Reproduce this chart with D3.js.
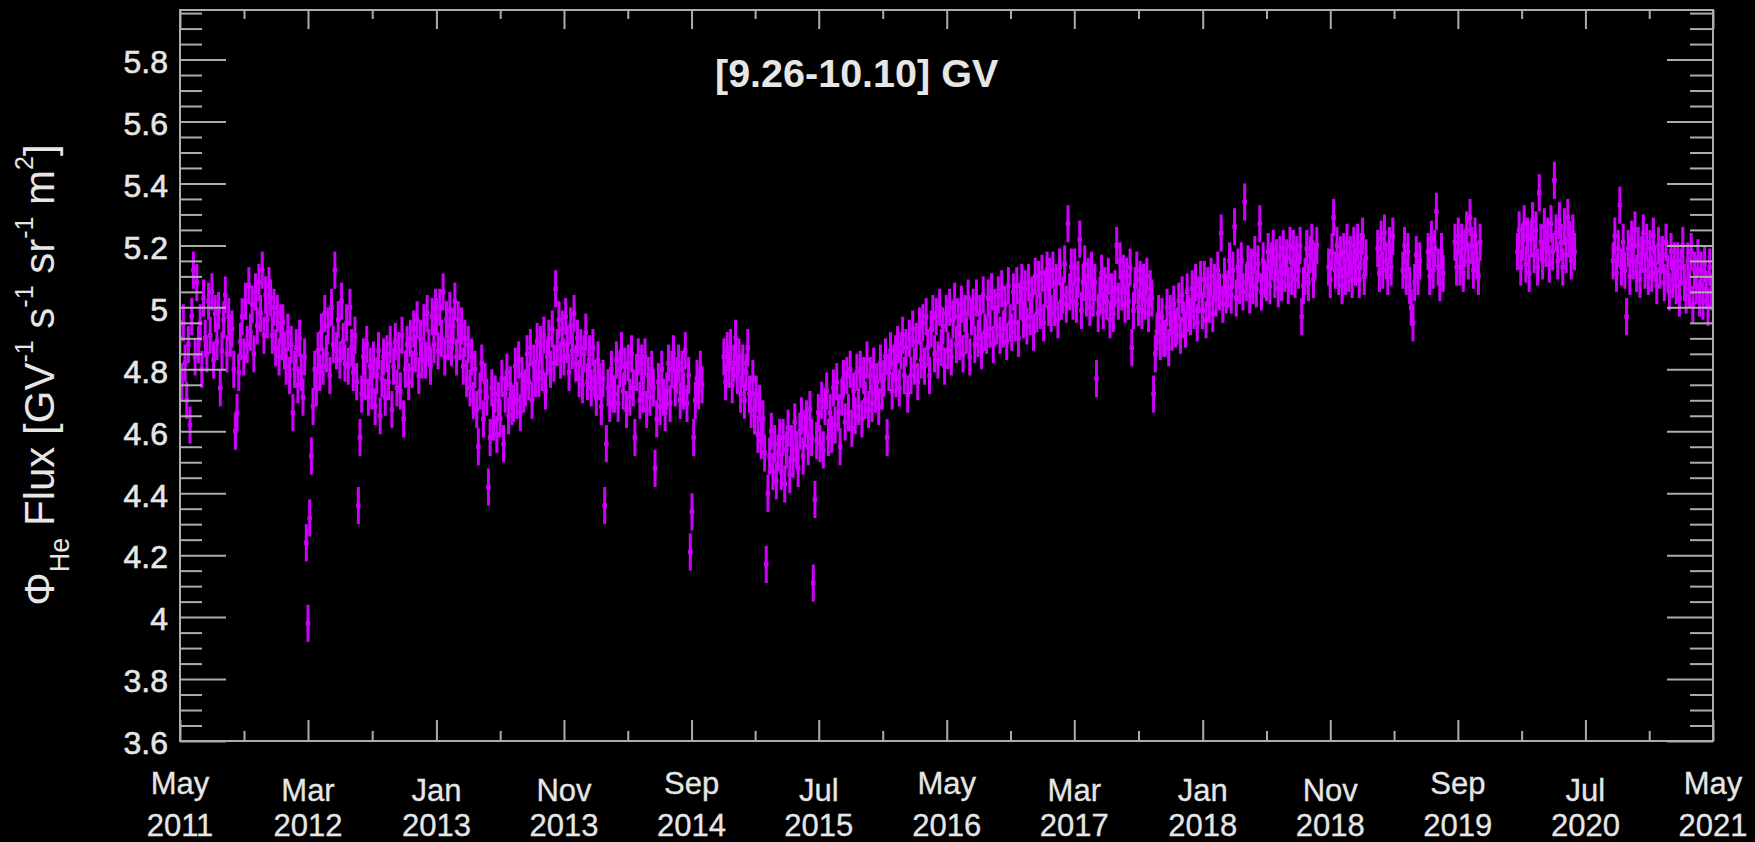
<!DOCTYPE html>
<html>
<head>
<meta charset="utf-8">
<script src="https://cdn.jsdelivr.net/npm/d3@7"></script>
<style>
  html, body { margin: 0; padding: 0; background: #000; }
  svg { display: block; }
  text { font-family: "Liberation Sans", Arial, Helvetica, sans-serif; fill: #e6e6e6; }
</style>
</head>
<body>
<svg id="chart" width="1755" height="842"></svg>
<script>
// flux samples, one every 4 days from the series start, null = no data
const flux2011 = [4.90,4.76,4.95,4.82,4.70,4.88,4.62,4.97, 5.12,4.84,5.08,4.88,4.95,4.80,5.03,4.90,
  4.85,5.02,4.91,5.05,4.83,4.98,4.89, 4.99,4.74,4.86,4.96,5.04,4.85,4.97,4.90,
  4.93,4.80,4.60,4.66,4.79,4.89,4.97,4.84, 5.02,4.88,5.07,4.92,5.01,4.85,5.05,
  4.94,5.08,4.98,5.12,4.91,5.04,4.96,5.07, 5.03,4.91,5.00,4.87,4.98,4.84,4.95,4.89];
const flux2012 = [4.95,4.86,4.81,4.92,4.78,4.88,4.66,4.80, 4.87,4.75,4.90,4.79,4.71,4.84,4.24,
  3.98,4.32,4.52,4.68,4.80,4.74,4.86,4.79, 4.92,4.81,4.98,4.85,4.94,4.78,5.00,4.88,
  5.12,4.86,4.96,4.83,5.02,4.89,4.82, 4.95,4.81,5.00,4.87,4.79,4.91,4.76,4.36,
  4.58,4.72,4.84,4.76,4.88,4.71,4.81,4.73, 4.83,4.68,4.78,4.86,4.65,4.77,4.84,
  4.71,4.85,4.76,4.88,4.67,4.81,4.89,4.74, 4.86,4.73,4.91,4.64,4.80,4.88,4.76,4.90,
  4.80,4.93,4.85,4.96,4.78,4.90,4.83, 4.95,4.83,4.98,4.87,4.81,4.97,4.88,5.00];
const flux2013 = [4.97,4.86,5.00,4.90,5.05,4.84,4.96,4.89, 4.99,4.87,4.94,5.02,4.84,4.96,4.89,
  4.94,4.81,4.90,4.77,4.88,4.74,4.84,4.70, 4.80,4.67,4.55,4.73,4.82,4.64,4.76,
  4.71,4.42,4.58,4.74,4.63,4.72,4.59,4.70, 4.64,4.77,4.56,4.72,4.79,4.65,4.75,4.68,
  4.69,4.81,4.70,4.83,4.66,4.78,4.72, 4.74,4.85,4.76,4.87,4.70,4.82,4.77,4.89,
  4.77,4.88,4.79,4.91,4.73,4.84,4.90,4.80, 4.93,4.82,5.06,4.87,4.96,4.83,4.93,
  4.84,4.97,4.88,4.79,4.94,4.86,4.98,4.82, 4.90,4.77,4.87,4.75,4.85,4.92,4.76,4.83];
const flux2014 = [4.85,4.74,4.87,4.77,4.71,4.83,4.76,4.68, 4.77,4.36,4.56,4.74,4.69,4.80,4.72,
  4.72,4.83,4.69,4.80,4.86,4.73,4.81,4.67, 4.82,4.71,4.85,4.74,4.58,4.79,4.84,
  4.70,4.82,4.72,4.84,4.67,4.78,4.71,4.80, 4.74,4.48,4.64,4.76,4.68,4.80,4.71,4.66,
  4.73,4.82,4.69,4.80,4.85,4.74,4.78, 4.82,4.70,4.80,4.73,4.86,4.69,4.78,4.21,
  4.34,4.58,4.70,4.77,4.73,4.80,4.75,null, null,null,null,null,null,null,null,
  null,null,null,null,4.84,4.76,4.86,4.80, 4.87,4.75,4.82,4.90,4.78,4.84,4.72,4.80];
const flux2015 = [4.82,4.70,4.79,4.87,4.72,4.67,4.77,4.65, 4.72,4.59,4.69,4.57,4.64,4.53,4.17,
  4.40,4.52,4.60,4.47,4.56,4.44,4.53,4.58, 4.47,4.58,4.43,4.54,4.61,4.46,4.56,
  4.51,4.63,4.54,4.48,4.60,4.65,4.52,4.61, 4.64,4.55,4.67,4.58,4.11,4.38,4.57,4.66,
  4.56,4.70,4.54,4.68,4.73,4.58,4.66, 4.59,4.74,4.62,4.76,4.66,4.55,4.71,4.77,
  4.63,4.78,4.66,4.80,4.61,4.73,4.65,4.79, 4.68,4.80,4.64,4.78,4.70,4.83,4.67,
  4.78,4.69,4.81,4.72,4.76,4.68,4.82,4.73, 4.77,4.84,4.58,4.79,4.86,4.73,4.82,4.85];
const flux2016 = [4.77,4.88,4.74,4.86,4.91,4.78,4.87,4.72, 4.90,4.78,4.93,4.81,4.89,4.76,4.94,
  4.83,4.95,4.81,4.97,4.87,4.78,4.93,4.98, 4.85,4.97,4.83,5.00,4.87,4.94,4.81,4.98,
  4.86,5.00,4.84,4.96,5.02,4.88,4.97, 4.89,5.01,4.85,4.98,4.91,5.03,4.84,4.97,
  5.00,4.88,5.03,4.90,4.98,4.86,5.04,4.92, 4.91,5.03,4.93,5.05,4.88,5.00,4.94,
  5.04,4.91,5.06,4.93,5.01,4.89,5.07,4.95, 4.92,5.05,4.95,5.07,4.90,5.02,5.08,4.96,
  5.06,4.94,5.08,4.97,5.04,4.92,5.10, 4.98,5.09,4.99,5.11,4.95,5.06,5.12,5.00];
const flux2017 = [5.10,4.98,5.12,5.00,5.08,4.96,5.13,5.02, 5.04,5.14,5.01,5.27,5.05,5.13,5.02,
  5.13,5.01,5.09,5.22,4.99,5.08,5.14,5.03, 5.10,5.00,5.12,5.03,5.08,4.77,4.98,
  5.04,5.11,4.99,5.07,5.02,5.10,4.96,5.05, 4.98,5.06,5.20,5.02,5.15,5.05,5.11,5.01,
  5.10,5.02,5.13,4.87,4.99,5.07,5.12, 5.00,5.09,4.99,5.08,5.02,5.10,4.98,5.06,
  5.03,4.72,4.85,4.92,4.98,4.89,4.97,4.90, 4.90,5.00,4.87,4.98,4.92,5.01,4.93,
  4.94,5.02,4.91,5.04,4.96,4.93,5.05,4.98, 4.97,5.06,4.99,5.08,4.95,5.04,5.09,4.99];
const flux2018 = [4.99,5.09,4.96,5.07,5.01,5.10,4.98,5.08, 5.03,5.12,5.05,5.24,5.01,5.10,5.04,
  5.06,5.15,5.04,5.12,5.26,5.03,5.13,5.07, 5.15,5.05,5.34,5.08,5.14,5.04,5.13,
  5.07,5.17,5.06,5.14,5.27,5.05,5.15,5.09, 5.08,5.18,5.07,5.15,5.19,5.09,5.16,5.06,
  5.17,5.08,5.19,5.11,5.16,5.07,5.20, 5.10,5.19,5.09,5.17,5.12,5.20,4.97,5.07,
  5.10,5.19,5.08,5.17,5.21,5.09,5.15,5.20, null,null,null,null,null,null,5.13,
  5.09,5.18,5.29,5.12,5.20,5.10,5.17,5.07, 5.18,5.10,5.21,5.11,5.17,5.09,5.20,5.13];
const flux2019 = [5.13,5.21,5.09,5.18,5.23,5.10,5.16,null, null,null,null,null,null,5.19,5.11,
  5.22,5.12,5.24,5.15,5.10,5.20,5.13,5.23, null,null,null,null,null,5.12,5.20,
  5.10,5.18,5.07,5.00,4.95,5.08,5.17,5.10, 5.15,null,null,null,null,5.18,5.10,5.22,
  5.12,5.19,5.31,5.13,5.08,5.18,5.11, null,null,null,null,null,null,5.21,5.13,
  5.23,5.13,5.21,5.11,5.19,5.25,5.15,5.29, 5.20,5.12,5.23,5.15,5.10,5.21,null,
  null,null,null,null,null,null,null,null, null,null,null,null,null,null,null,null];
const flux2020 = [null,null,null,null,null,5.18,5.25,5.13, 5.21,5.27,5.14,5.23,5.11,5.22,5.28,
  5.17,5.25,5.13,5.37,5.21,5.15,5.26,5.19, 5.23,5.14,5.27,5.18,5.41,5.24,5.15,5.28,
  5.21,5.13,5.26,5.17,5.29,5.22,5.15, 5.24,5.18,null,null,null,null,null,null,
  null,null,null,null,null,null,null,null, null,null,null,null,null,null,null,
  null,5.15,5.23,5.11,5.19,5.33,5.13,5.21, 5.12,4.97,5.19,5.10,5.22,5.15,5.25,5.11,
  5.20,5.09,5.17,5.24,5.12,5.21,5.10, 5.19,5.11,5.23,5.14,5.07,5.20,5.12,5.17];
const flux2021 = [5.17,5.08,5.21,5.11,5.05,5.18,5.09,5.15, 5.07,5.15,5.03,5.13,5.20,5.08,5.04,
  5.15,5.06,5.18,5.01,5.12,5.07,5.16,5.03, 5.12,5.02,5.14,5.06,5.00,5.13,5.05];

const fluxSeries = [flux2011, flux2012, flux2013, flux2014, flux2015, flux2016,
  flux2017, flux2018, flux2019, flux2020, flux2021];
const seriesStart = ['2011-05-01', '2012-01-01', '2013-01-01', '2014-01-01', '2015-01-01', '2016-01-01',
  '2017-01-01', '2018-01-01', '2019-01-01', '2020-01-01', '2021-01-01'];
const fluxErr = [0.06, 0.06, 0.06, 0.06, 0.06, 0.06, 0.06, 0.06, 0.06, 0.06, 0.06];
const stepDays = 4;

const xTickLabels = ['May 2011', 'Mar 2012', 'Jan 2013', 'Nov 2013', 'Sep 2014', 'Jul 2015', 'May 2016',
  'Mar 2017', 'Jan 2018', 'Nov 2018', 'Sep 2019', 'Jul 2020', 'May 2021'];
const yTickValues = [3.6, 3.8, 4, 4.2, 4.4, 4.6, 4.8, 5, 5.2, 5.4, 5.6, 5.8];
const yDomain = [3.6, 5.96];
const title = '[9.26-10.10] GV';

const width = 1755, height = 842;
const plot = { left: 180, right: 1713, top: 10, bottom: 741 };
const axisColor = '#adadad';
const dataColor = '#d000ff';

const parseDay = d3.timeParse('%Y-%m-%d');
const parseTick = d3.timeParse('%b %Y');

const points = [];
fluxSeries.forEach((values, k) => {
    const start = parseDay(seriesStart[k]);
    values.forEach((v, i) => {
        if (v == null) return;
        points.push({ date: d3.timeDay.offset(start, i * stepDays), v, err: fluxErr[k] });
    });
});

const xTicks = xTickLabels.map(parseTick);
const xMinor = d3.pairs(xTicks).map(([a, b]) => new Date((+a + +b) / 2));
const yMinor = d3.range(73, 120).filter(k => k % 4 !== 0).map(k => +(k * 0.05).toFixed(2));

const x = d3.scaleTime()
    .domain([xTicks[0], xTicks[xTicks.length - 1]])
    .range([plot.left, plot.right]);

const y = d3.scaleLinear()
    .domain(yDomain)
    .range([plot.bottom, plot.top]);

const svg = d3.select('#chart');

svg.append('rect')
    .attr('width', width)
    .attr('height', height)
    .attr('fill', '#000');

svg.append('defs').append('clipPath')
    .attr('id', 'plot-clip')
  .append('rect')
    .attr('x', plot.left)
    .attr('y', plot.top)
    .attr('width', plot.right - plot.left)
    .attr('height', plot.bottom - plot.top);

// data: error bars with a small marker
const dataG = svg.append('g')
    .attr('clip-path', 'url(#plot-clip)');

dataG.selectAll('line.err')
    .data(points)
    .join('line')
        .attr('class', 'err')
        .attr('x1', d => x(d.date))
        .attr('x2', d => x(d.date))
        .attr('y1', d => y(d.v - d.err))
        .attr('y2', d => y(d.v + d.err))
        .attr('stroke', dataColor)
        .attr('stroke-width', 3);

dataG.selectAll('rect.pt')
    .data(points)
    .join('rect')
        .attr('class', 'pt')
        .attr('x', d => x(d.date) - 2.25)
        .attr('y', d => y(d.v) - 2.25)
        .attr('width', 4.5)
        .attr('height', 4.5)
        .attr('fill', dataColor);

// axes
function styleAxis(g) {
    g.attr('color', axisColor);
    g.select('.domain').remove();
    g.selectAll('.tick line').attr('stroke-width', 2);
}

svg.append('g')
    .attr('transform', `translate(${plot.left},0)`)
    .call(d3.axisLeft(y).tickValues(yMinor).tickSize(-22).tickFormat(''))
    .call(styleAxis);

svg.append('g')
    .attr('transform', `translate(${plot.left},0)`)
    .call(d3.axisLeft(y).tickValues(yTickValues).tickSize(-46).tickPadding(12).tickFormat(d3.format('~g')))
    .call(styleAxis)
    .call(g => g.selectAll('text')
        .attr('dy', '0.4em')
        .attr('font-family', null)
        .style('font-size', '32px')
        .style('fill', '#e6e6e6')
        .style('stroke', '#e6e6e6')
        .style('stroke-width', 0.6));

svg.append('g')
    .attr('transform', `translate(${plot.right},0)`)
    .call(d3.axisRight(y).tickValues(yMinor).tickSize(-23).tickFormat(''))
    .call(styleAxis);

svg.append('g')
    .attr('transform', `translate(${plot.right},0)`)
    .call(d3.axisRight(y).tickValues(yTickValues).tickSize(-46).tickFormat(''))
    .call(styleAxis);

svg.append('g')
    .attr('transform', `translate(0,${plot.bottom})`)
    .call(d3.axisBottom(x).tickValues(xTicks).tickSize(-21).tickFormat(''))
    .call(styleAxis);

svg.append('g')
    .attr('transform', `translate(0,${plot.bottom})`)
    .call(d3.axisBottom(x).tickValues(xMinor).tickSize(-10).tickFormat(''))
    .call(styleAxis);

svg.append('g')
    .attr('transform', `translate(0,${plot.top})`)
    .call(d3.axisTop(x).tickValues(xTicks).tickSize(-19).tickFormat(''))
    .call(styleAxis);

svg.append('g')
    .attr('transform', `translate(0,${plot.top})`)
    .call(d3.axisTop(x).tickValues(xMinor).tickSize(-9).tickFormat(''))
    .call(styleAxis);

svg.append('rect')
    .attr('x', plot.left)
    .attr('y', plot.top)
    .attr('width', plot.right - plot.left)
    .attr('height', plot.bottom - plot.top)
    .attr('fill', 'none')
    .attr('stroke', axisColor)
    .attr('stroke-width', 2);

// two-line date labels; words with descenders sit a little higher
const xLabel = svg.append('g')
    .selectAll('text')
    .data(xTickLabels)
    .join('text')
        .attr('transform', (d, i) => `translate(${x(xTicks[i])},0)`)
        .attr('text-anchor', 'middle')
        .style('font-size', '31px')
        .style('stroke', '#e6e6e6')
        .style('stroke-width', 0.3);

xLabel.append('tspan')
    .attr('x', 0)
    .attr('y', d => /[gjpqy]/.test(d.split(' ')[0]) ? 794 : 801)
    .text(d => d.split(' ')[0]);

xLabel.append('tspan')
    .attr('x', 0)
    .attr('y', 836)
    .text(d => d.split(' ')[1]);

svg.append('text')
    .attr('x', 715)
    .attr('y', 87)
    .style('font-size', '39.5px')
    .style('font-weight', 'bold')
    .text(title);

const yLabel = svg.append('text')
    .attr('transform', `translate(54,${(143 + 607) / 2}) rotate(-90)`)
    .attr('text-anchor', 'middle')
    .style('font-size', '42px');

yLabel.append('tspan').text('\u03A6');
yLabel.append('tspan').attr('dy', 15).style('font-size', '27px').text('He');
yLabel.append('tspan').attr('dy', -15).text(' Flux [GV');
yLabel.append('tspan').attr('dy', -21).style('font-size', '25px').text('-1');
yLabel.append('tspan').attr('dy', 21).text(' s');
yLabel.append('tspan').attr('dy', -21).style('font-size', '25px').text('-1');
yLabel.append('tspan').attr('dy', 21).text(' sr');
yLabel.append('tspan').attr('dy', -21).style('font-size', '25px').text('-1');
yLabel.append('tspan').attr('dy', 21).text(' m');
yLabel.append('tspan').attr('dy', -21).style('font-size', '25px').text('2');
yLabel.append('tspan').attr('dy', 21).text(']');
</script>
</body>
</html>
